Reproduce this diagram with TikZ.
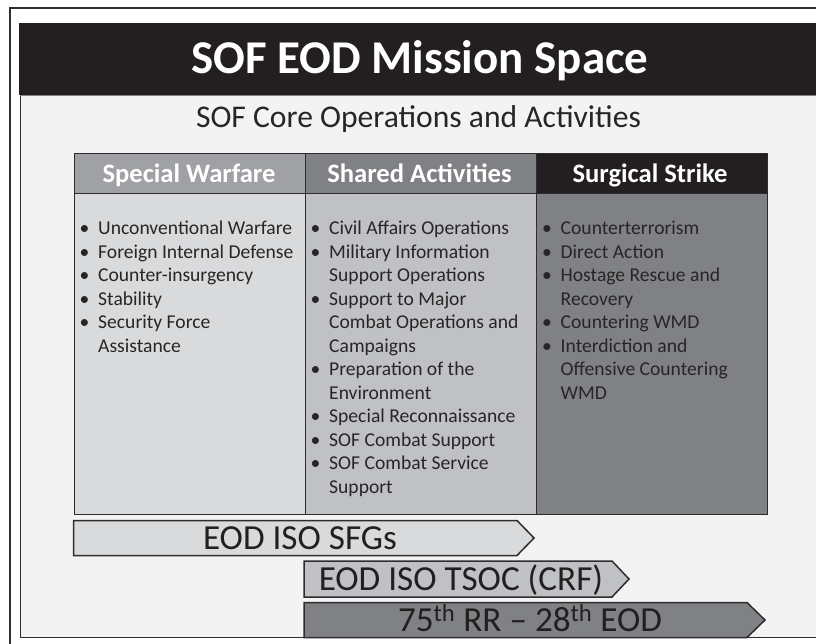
\documentclass[tikz,border=0pt]{standalone}
\usepackage{fontspec}
\setmainfont{Carlito}
\definecolor{ink}{RGB}{35,31,32}
\definecolor{txt}{RGB}{38,38,38}
\definecolor{panel}{RGB}{242,243,242}
\definecolor{hdA}{RGB}{160,161,164}
\definecolor{hdB}{RGB}{128,129,132}
\definecolor{bodyA}{RGB}{217,218,220}
\definecolor{bodyB}{RGB}{192,193,196}
\definecolor{bodyC}{RGB}{128,129,132}
\definecolor{edge}{RGB}{45,45,45}
\newcommand\bl{\makebox[18.5pt][l]{•}}
\newcommand\ct{\hspace*{18.5pt}}
\tikzset{
  cellbox/.style={draw=edge, line width=1.4pt, inner sep=0pt, anchor=north west},
  headtxt/.style={anchor=base, text=white, inner sep=0pt, font=\fontsize{26.6}{30}\selectfont\bfseries},
  listtxt/.style={anchor=base west, text=txt, inner sep=0pt, font=\fontsize{19.6}{23.5}\selectfont},
  arrowbox/.style={draw=edge, line width=1.5pt, line join=miter},
  arrowtxt/.style={anchor=base, text=ink, inner sep=0pt, font=\fontsize{35.2}{38}\selectfont}
}
\begin{document}
\begin{tikzpicture}[x=1pt,y=-1pt]
\useasboundingbox (0,0) rectangle (816,644);
\fill[white] (0,0) rectangle (816,644);
% outer frame
\draw[edge, line width=2.5pt] (10,644) -- (10,8) -- (816,8);
% slide panel
\fill[panel] (20,95) rectangle (816,637.5);
\draw[edge, line width=1.5pt] (20.5,95) -- (20.5,637.5) -- (816,637.5);
\fill[ink] (19,23) rectangle (816,95);
\draw[gray, line width=1pt] (20,95.5) -- (816,95.5);
\node[anchor=base, text=white, inner sep=0pt, font=\fontsize{47}{50}\selectfont\bfseries] (title) at (420,74) {SOF EOD Mission Space};
\node[anchor=base, text=txt, inner sep=0pt, font=\fontsize{31.6}{34}\selectfont] (subtitle) at (418.5,128) {SOF Core Operations and Activities};
% table cells
\node[cellbox, fill=bodyA, minimum width=231pt, minimum height=321pt] (bodyA) at (73.5,193) {};
\node[cellbox, fill=bodyB, minimum width=231pt, minimum height=321pt] (bodyB) at (304.5,193) {};
\node[cellbox, fill=bodyC, minimum width=231pt, minimum height=321pt] (bodyC) at (535.5,193) {};
\node[cellbox, fill=hdA, minimum width=231pt, minimum height=40pt] (headA) at (73.5,153) {};
\node[cellbox, fill=hdB, minimum width=231pt, minimum height=40pt] (headB) at (304.5,153) {};
\node[cellbox, fill=ink, minimum width=231pt, minimum height=40pt] (headC) at (535.5,153) {};
\node[headtxt] (htA) at (189,183) {Special Warfare};
\node[headtxt] (htB) at (419.5,183) {Shared Activities};
\node[headtxt] (htC) at (650,183) {Surgical Strike};
% lists
\node[listtxt] (listA) at (79.5,235) {\begin{tabular}[t]{@{}l@{}}
\bl Unconventional Warfare\\
\bl Foreign Internal Defense\\
\bl Counter-insurgency\\
\bl Stability\\
\bl Security Force\\
\ct Assistance
\end{tabular}};
\node[listtxt] (listB) at (310.5,235) {\begin{tabular}[t]{@{}l@{}}
\bl Civil Affairs Operations\\
\bl Military Information\\
\ct Support Operations\\
\bl Support to Major\\
\ct Combat Operations and\\
\ct Campaigns\\
\bl Preparation of the\\
\ct Environment\\
\bl Special Reconnaissance\\
\bl SOF Combat Support\\
\bl SOF Combat Service\\
\ct Support
\end{tabular}};
\node[listtxt] (listC) at (542,235) {\begin{tabular}[t]{@{}l@{}}
\bl Counterterrorism\\
\bl Direct Action\\
\bl Hostage Rescue and\\
\ct Recovery\\
\bl Countering WMD\\
\bl Interdiction and\\
\ct Offensive Countering\\
\ct WMD
\end{tabular}};
% arrows
\draw[arrowbox, fill=bodyA] (73.5,520.5) -- (517,520.5) -- (534,538) -- (517,555.5) -- (73.5,555.5) -- cycle;
\draw[arrowbox, fill=bodyB] (304,561) -- (612,561) -- (629,579) -- (612,597) -- (304,597) -- cycle;
\draw[arrowbox, fill=bodyC] (304,602.5) -- (747,602.5) -- (765,620) -- (747,637.5) -- (304,637.5) -- cycle;
\node[arrowtxt] (arrA) at (300,549) {EOD ISO SFGs};
\node[arrowtxt] (arrB) at (461,590) {EOD ISO TSOC (CRF)};
\node[arrowtxt] (arrC) at (530,631) {75\textsuperscript{th} RR – 28\textsuperscript{th} EOD};
\end{tikzpicture}
\end{document}
